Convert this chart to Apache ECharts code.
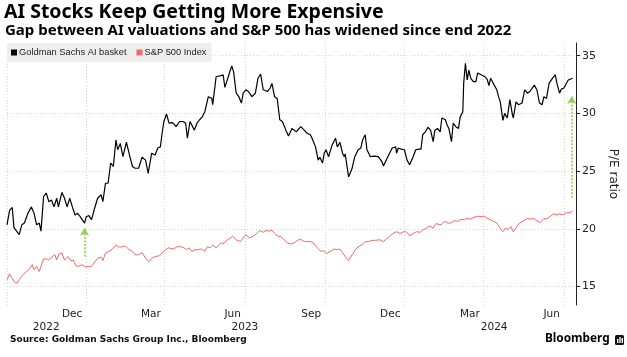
<!DOCTYPE html>
<html><head><meta charset="utf-8">
<script src="https://cdn.jsdelivr.net/npm/echarts@6/dist/echarts.min.js"></script>
<style>html,body{margin:0;padding:0;background:#fff}#c{width:627px;height:357px}</style>
</head><body><div id="c"></div>
<script>
// Series: [days since 2022-09-01, P/E ratio]
const aiBasket = [[0,20.35],[3,21.6],[6,21.85],[8,20.1],[11,19.8],[14,19.5],[17,20.35],[20,20.5],[24,21.35],[28,21.9],[31,21.35],[34,20.35],[37,20.5],[39,19.8],[42,22.8],[45,23.1],[48,22.35],[51,22.5],[54,21.9],[57,22.65],[59,21.9],[63,23.15],[66,22.65],[69,21.9],[72,22.65],[75,21.9],[78,21.2],[81,21.35],[84,21.05],[89,20.5],[91,21.05],[94,21.15],[97,20.8],[100,21.65],[104,22.65],[108,22.95],[110,22.35],[113,23.95],[116,23.95],[119,25.7],[122,25.4],[125,27.7],[127,26.85],[130,27.4],[133,26.25],[137,27.5],[141,26.25],[144,25.4],[147,25.25],[151,25.25],[155,26.2],[159,25.95],[162,24.8],[166,26.55],[170,26.4],[173,27.0],[176,27.1],[178,28.3],[180,29.3],[183,29.95],[186,29.15],[190,29.2],[194,28.85],[198,29.3],[202,29.3],[205,29.15],[207,27.85],[210,29.3],[215,28.55],[218,29.15],[221,29.45],[224,29.7],[227,30.15],[231,31.45],[235,31.3],[236,30.75],[240,33.2],[242,33.35],[245,33.25],[248,33.35],[250,32.25],[254,33.2],[256,33.7],[258,34.1],[260,33.6],[263,31.75],[266,31.45],[269,30.9],[271,31.75],[274,32.05],[277,31.9],[281,31.45],[285,31.75],[288,33.05],[291,33.4],[294,32.05],[296,32.2],[299,31.9],[302,32.2],[304,32.6],[307,31.45],[310,31.3],[313,29.45],[316,29.3],[320,28.55],[323,28.05],[327,28.7],[332,28.4],[337,28.85],[341,28.55],[344,28.3],[348,28.15],[350,27.85],[354,27.1],[357,25.95],[359,26.2],[362,25.7],[364,26.55],[366,26.85],[369,26.25],[373,27.25],[377,27.85],[379,27.1],[382,27.5],[385,26.55],[387,26.25],[388,26.5],[392,24.5],[396,25.25],[399,26.25],[403,26.85],[406,27.0],[408,27.7],[411,28.15],[413,26.85],[415,26.85],[417,26.25],[421,26.3],[426,26.25],[430,25.85],[432,25.45],[435,25.95],[439,26.55],[442,27.0],[446,27.1],[447,26.55],[449,27.0],[452,26.9],[456,26.85],[459,25.95],[462,25.55],[464,25.55],[466,26.25],[469,26.85],[472,26.9],[475,26.9],[477,28.15],[480,28.4],[483,28.8],[486,28.55],[489,27.55],[491,28.55],[494,28.7],[497,28.4],[499,29.6],[503,29.45],[505,29.0],[507,28.7],[510,27.55],[512,29.15],[515,28.85],[518,28.7],[520,29.7],[523,30.15],[524,32.6],[526,34.35],[528,32.9],[530,33.75],[532,33.05],[535,32.75],[538,32.75],[540,33.5],[544,33.35],[548,33.2],[551,32.95],[553,32.4],[555,33.05],[557,32.75],[559,32.45],[562,32.05],[564,31.45],[566,31.0],[569,29.4],[571,30.0],[574,29.6],[577,31.2],[580,29.85],[581,29.6],[584,31.0],[587,30.75],[591,30.9],[594,32.05],[597,31.75],[600,31.9],[602,32.05],[605,32.45],[608,32.05],[611,30.9],[614,30.75],[616,31.45],[619,31.3],[622,32.6],[626,33.05],[629,33.35],[631,32.6],[634,31.75],[636,32.1],[639,32.2],[641,32.3],[644,32.9],[646,32.9],[649,33.05]];
const spx = [[0,15.6],[3,16.1],[6,15.7],[9,15.35],[12,15.3],[14,15.6],[17,15.9],[19,15.75],[22,16.3],[25,16.45],[29,16.9],[31,16.45],[34,16.75],[37,16.3],[39,16.75],[42,17.4],[45,17.4],[48,17.3],[51,17.55],[55,17.75],[57,17.3],[60,17.85],[63,17.9],[66,17.3],[70,17.6],[73,17.25],[76,17.3],[79,16.8],[82,16.75],[86,16.9],[90,16.7],[94,16.75],[97,16.75],[100,17.05],[104,17.45],[108,17.55],[110,17.25],[113,17.9],[117,18.05],[121,18.25],[125,18.6],[129,18.4],[132,18.45],[136,18.5],[140,18.2],[144,18.05],[147,17.75],[151,17.75],[155,17.95],[159,17.45],[163,17.15],[166,17.45],[170,17.6],[174,17.65],[178,17.9],[182,18.2],[185,18.35],[191,18.25],[195,18.45],[199,18.45],[202,18.4],[206,18.2],[209,18.35],[212,18.05],[216,18.2],[219,18.2],[223,18.25],[227,18.05],[230,18.45],[233,18.35],[236,18.6],[240,18.35],[245,18.75],[249,18.75],[252,19.0],[256,19.2],[259,19.35],[263,19.05],[268,18.9],[271,19.2],[274,19.5],[278,19.2],[282,19.35],[286,19.55],[290,19.85],[294,19.7],[297,19.85],[301,19.8],[304,19.9],[307,19.6],[311,19.35],[314,19.35],[318,19.05],[322,18.75],[326,18.7],[330,18.8],[333,19.0],[337,19.1],[341,18.9],[344,18.9],[348,18.9],[352,18.75],[356,18.35],[360,18.05],[364,18.1],[367,17.85],[371,18.05],[375,18.25],[379,18.2],[382,18.25],[384,18.05],[388,17.6],[392,17.25],[396,17.75],[400,18.2],[403,18.45],[407,18.6],[411,18.9],[415,18.9],[419,19.0],[422,19.0],[428,19.05],[432,18.9],[435,19.1],[439,19.35],[443,19.6],[447,19.75],[451,19.6],[455,19.75],[458,19.75],[462,19.4],[466,19.6],[470,19.75],[474,19.7],[477,19.9],[481,20.05],[485,20.25],[489,20.05],[492,20.45],[494,20.5],[498,20.35],[502,20.65],[506,20.5],[509,20.5],[513,20.7],[517,20.65],[521,20.8],[525,20.8],[528,20.9],[532,20.85],[536,21.0],[540,21.1],[544,21.05],[547,21.1],[551,20.9],[554,20.8],[557,20.7],[559,20.85],[562,20.5],[566,20.05],[569,19.75],[572,20.05],[575,19.95],[578,20.2],[581,19.75],[585,20.2],[588,20.5],[592,20.65],[597,20.9],[600,20.85],[604,20.9],[608,20.7],[612,20.55],[616,20.9],[619,20.85],[623,21.05],[627,21.3],[631,21.2],[634,21.3],[638,21.2],[642,21.4],[646,21.4],[649,21.55]];
const seriesNames = ['Goldman Sachs AI basket', 'S&P 500 Index'];
const startDate = '2022-09-01';
const endDate = '2024-06-15';
const monthTicks = ['2022-09-01','2022-12-01','2023-03-01','2023-06-01','2023-09-01','2023-12-01','2024-03-01','2024-06-01'];
const monthLabels = ['2022-12-01','2023-03-01','2023-06-01','2023-09-01','2023-12-01','2024-03-01','2024-06-01'];
const yearLabels = ['2022-10-16','2023-06-01','2024-03-13'];
const yTicks = [15, 20, 25, 30, 35];
// gap annotations: [date, from, to]
const arrows = [['2022-11-29', 17.6, 20.1], ['2024-06-10', 22.7, 31.5]];

function ts(s){ const p = s.split('-').map(Number); return new Date(p[0], p[1]-1, p[2]).getTime(); }
function dayTs(d){ const p = startDate.split('-').map(Number); return new Date(p[0], p[1]-1, p[2] + d).getTime(); }
const MON = ['Jan','Feb','Mar','Apr','May','Jun','Jul','Aug','Sep','Oct','Nov','Dec'];
const FONT = 'DejaVu Sans';
const grid = { left: 7, right: 46, top: 43, bottom: 52 };
const xMin = ts(startDate), xMax = ts(endDate);

const chart = echarts.init(document.getElementById('c'), null, { renderer: 'canvas' });
chart.setOption({
  animation: false,
  backgroundColor: '#fff',
  title: [
    { text: 'AI Stocks Keep Getting More Expensive', left: 4, top: 2, padding: 0,
      textStyle: { fontFamily: 'Noto Sans', fontWeight: 'bold', fontSize: 19.5, color: '#000' } },
    { text: 'Gap between AI valuations and S&P 500 has widened since end 2022', left: 5, top: 23, padding: 0,
      textStyle: { fontFamily: 'Noto Sans', fontWeight: 'bold', fontSize: 15, color: '#000' } },
    { text: 'Source: Goldman Sachs Group Inc., Bloomberg', left: 10, top: 335, padding: 0,
      textStyle: { fontFamily: 'DejaVu Sans', fontWeight: 'bold', fontSize: 9, color: '#111' } },
    { text: 'Bloomberg', left: 545, top: 333, padding: 0,
      textStyle: { fontFamily: 'Noto Sans', fontWeight: 'bold', fontSize: 11.8, color: '#000' } }
  ],
  graphic: [
    { type: 'rect', left: 615, top: 335, shape: { width: 9, height: 10, r: 1.5 }, style: { fill: '#111' } },
    { type: 'rect', left: 617, top: 339, shape: { width: 1.4, height: 4 }, style: { fill: '#fff' } },
    { type: 'rect', left: 619.3, top: 337, shape: { width: 1.4, height: 6 }, style: { fill: '#fff' } },
    { type: 'rect', left: 621.6, top: 338, shape: { width: 1.4, height: 5 }, style: { fill: '#fff' } }
  ],
  legend: {
    left: 7, top: 43, padding: [5, 5, 5, 4], itemGap: 10,
    backgroundColor: '#eeeeee',
    icon: 'rect', itemWidth: 6, itemHeight: 6,
    textStyle: { fontFamily: 'Liberation Sans', fontSize: 9.3, color: '#222', padding: [0, 0, 0, -3] },
    data: seriesNames
  },
  grid: grid,
  xAxis: [{
    type: 'value', min: xMin, max: xMax,
    axisLine: { show: false }, axisTick: { show: false, customValues: monthTicks.map(ts) },
    splitLine: { show: true, lineStyle: { color: '#d6d6d6', type: [1, 2], width: 1 } },
    axisLabel: {
      customValues: monthLabels.map(ts),
      formatter: v => MON[new Date(v).getMonth()],
      fontFamily: FONT, fontSize: 10.5, color: '#222', align: 'right', padding: [0, 4, 0, 0], margin: 4
    }
  }, {
    type: 'value', min: xMin, max: xMax, position: 'bottom', offset: 0,
    axisLine: { show: false }, axisTick: { show: false }, splitLine: { show: false },
    axisLabel: {
      customValues: yearLabels.map(ts),
      formatter: v => String(new Date(v).getFullYear()),
      fontFamily: FONT, fontSize: 10.5, color: '#222', margin: 17
    }
  }],
  yAxis: {
    type: 'value', position: 'right', min: 13.4, max: 36.1,
    name: 'P/E ratio', nameLocation: 'middle', nameRotate: -90, nameGap: 27,
    nameTextStyle: { fontFamily: FONT, fontSize: 12, color: '#222' },
    axisLine: { show: true, lineStyle: { color: '#222', width: 1 } },
    axisTick: { show: true, length: 4, lineStyle: { color: '#222' }, customValues: yTicks },
    axisLabel: { customValues: yTicks, fontFamily: FONT, fontSize: 11, color: '#222', margin: 6 },
    splitLine: { show: true, lineStyle: { color: '#d6d6d6', type: [1, 2], width: 1 } }
  },
  series: [
    { name: seriesNames[0], type: 'line', showSymbol: false, symbol: 'none',
      itemStyle: { color: '#000' }, lineStyle: { color: '#000', width: 1.2 },
      data: aiBasket.map(p => [dayTs(p[0]), p[1]]),
      markLine: {
        silent: true, symbol: ['none', 'arrow'], symbolSize: [7, 8], label: { show: false },
        lineStyle: { color: '#8fd14f', type: [2, 1.5], width: 1.6 },
        data: arrows.map(a => [{ coord: [ts(a[0]), a[1]] }, { coord: [ts(a[0]), a[2]] }])
      }
    },
    { name: seriesNames[1], type: 'line', showSymbol: false, symbol: 'none',
      itemStyle: { color: '#f06a66' }, lineStyle: { color: '#ef6a66', width: 1 },
      data: spx.map(p => [dayTs(p[0]), p[1]]) }
  ]
});
</script></body></html>
